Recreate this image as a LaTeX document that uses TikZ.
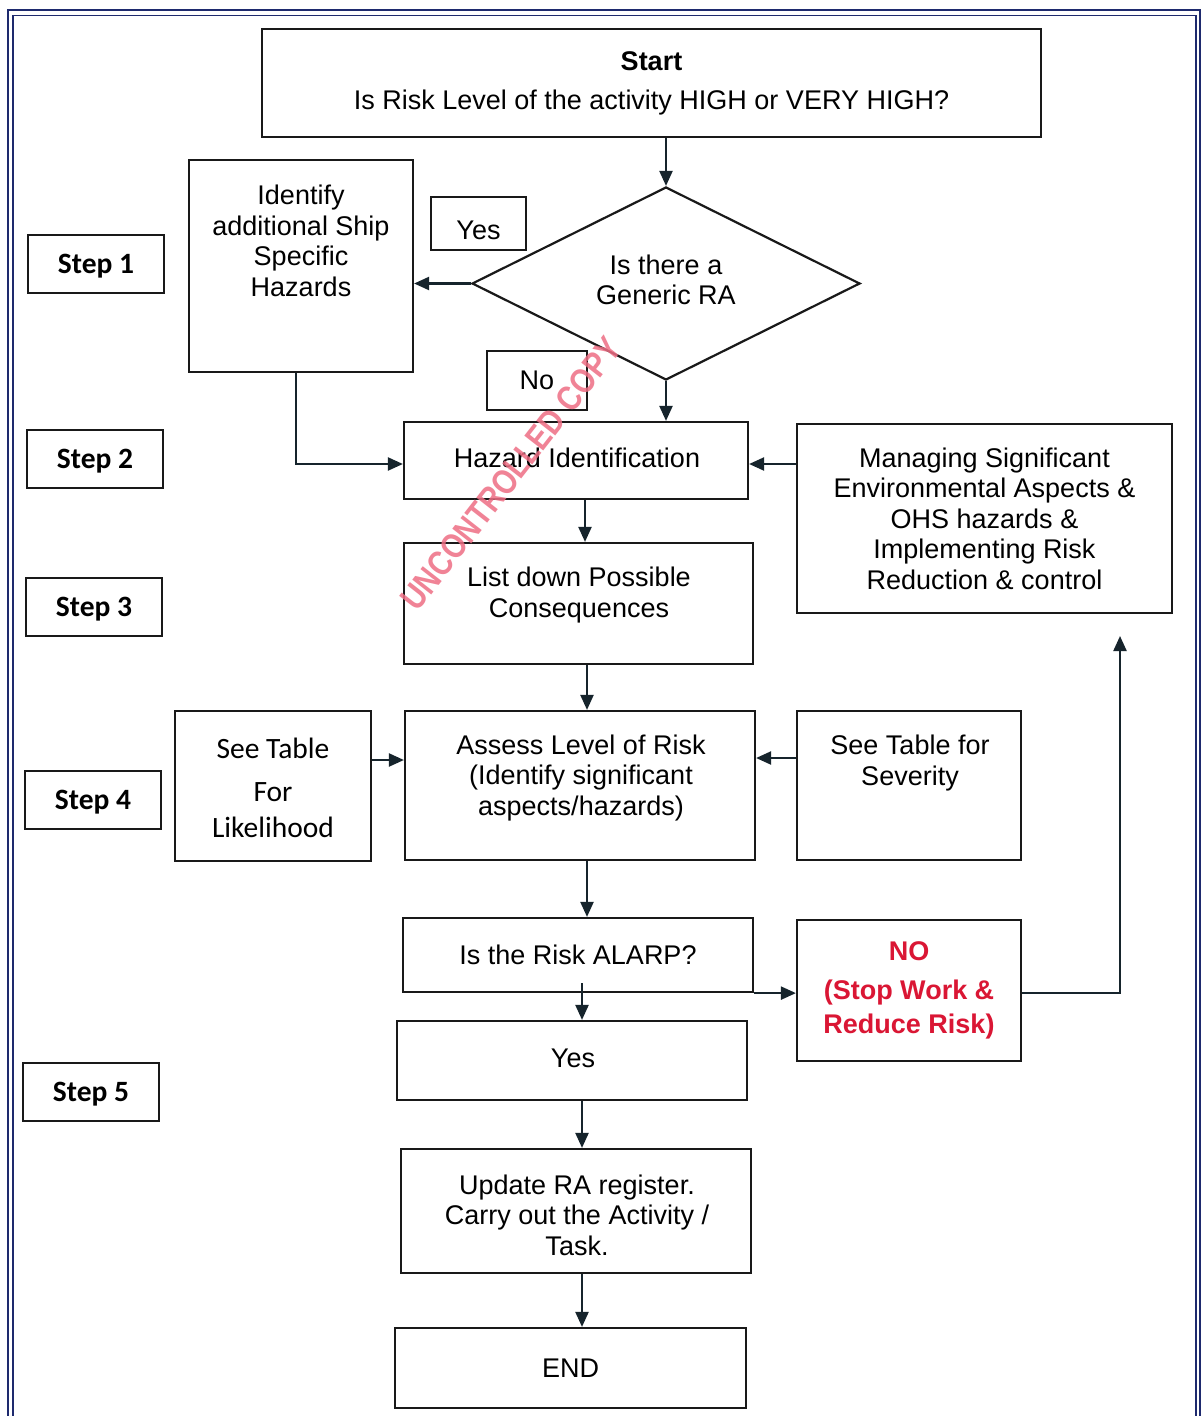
\documentclass[tikz,border=0pt]{standalone}
\usepackage{fontspec}
\setmainfont{Liberation Sans}
\newfontfamily\calib{Carlito}
\usetikzlibrary{arrows.meta,shapes.geometric}
\definecolor{framec}{RGB}{30,42,110}
\definecolor{linec}{RGB}{25,25,25}
\definecolor{arrc}{RGB}{22,36,44}
\definecolor{redt}{RGB}{218,22,52}
\definecolor{wmc}{RGB}{238,110,132}
\newcommand\fs{\fontsize{27}{30.5}\selectfont}
\newcommand\fsc{\calib\fontsize{29.5}{36}\selectfont}
\begin{document}
\begin{tikzpicture}[x=1pt,y=-1pt,
  box/.style={draw=linec, line width=2.2pt, rectangle, inner sep=0pt, font=\fs, align=center},
  txt/.style={font=\fs, align=center, inner sep=0pt},
  stepbox/.style={box, minimum width=136pt, minimum height=58pt, font=\fsc\bfseries},
  arr/.style={draw=arrc, line width=2.2pt, -{Triangle[length=15pt,width=13pt]}},
  frame/.style={draw=framec, line width=1.6pt}]
\useasboundingbox (0,0) rectangle (1203,1416);
\fill[white] (0,0) rectangle (1203,1416);
% page frame
\draw[frame] (8,1416) -- (8,10) -- (1200,10) -- (1200,1416);
\draw[frame] (13,1416) -- (13,15.5) -- (1196,15.5) -- (1196,1416);

% step labels
\node[stepbox] (s1) at (96,264) {};
\node[txt, font=\fsc\bfseries] (s1T) at (96,266) {Step 1};
\node[stepbox] (s2) at (95,459) {};
\node[txt, font=\fsc\bfseries] (s2T) at (95,461) {Step 2};
\node[stepbox] (s3) at (94,607) {};
\node[txt, font=\fsc\bfseries] (s3T) at (94,609) {Step 3};
\node[stepbox] (s4) at (93,800) {};
\node[txt, font=\fsc\bfseries] (s4T) at (93,802) {Step 4};
\node[stepbox] (s5) at (91,1092) {};
\node[txt, font=\fsc\bfseries] (s5T) at (91,1094) {Step 5};

% main nodes
\node[box, minimum width=779pt, minimum height=108pt] (start) at (651.5,83)
  {\textbf{Start}\\[8.5pt]Is Risk Level of the activity HIGH or VERY HIGH?};
\node[box, minimum width=224pt, minimum height=212pt] (ident) at (301,266) {};
\node[txt] (identT) at (301,241) {Identify\\additional Ship\\Specific\\Hazards};
\node[box, minimum width=95pt, minimum height=53pt] (yesA) at (478.5,223.5) {};
\node[txt] (yesAT) at (478.5,230) {Yes};
\node[diamond, draw=linec, line width=2.2pt, minimum width=388pt, minimum height=193pt,
      inner sep=0pt, aspect=2, font=\fs, align=center] (dia) at (666,283.5) {};
\node[txt] (diaT) at (666,280) {Is there a\\Generic RA};
\node[box, minimum width=100pt, minimum height=59pt] (noA) at (537,380.5) {No};
\node[box, minimum width=344pt, minimum height=77pt] (haz) at (576,460.5) {};
\node[txt] (hazT) at (577,458) {Hazard Identification};
\node[box, minimum width=375pt, minimum height=189pt] (manage) at (984.5,518.5)
  {Managing Significant\\Environmental Aspects \&\\OHS hazards \&\\Implementing Risk\\Reduction \& control};
\node[box, minimum width=349pt, minimum height=121pt] (list) at (578.5,603.5) {};
\node[txt] (listT) at (579,595) {List down Possible\\Consequences};
\node[box, minimum width=196pt, minimum height=150pt] (likeli) at (273,786) {};
\node[txt, font=\fsc] (likeliT) at (273,788) {See Table\\[7pt]For\\Likelihood};
\node[box, minimum width=350pt, minimum height=149pt] (assess) at (580,785.5) {};
\node[txt] (assessT) at (581,778) {Assess Level of Risk\\(Identify significant\\aspects/hazards)};
\node[box, minimum width=224pt, minimum height=149pt] (sever) at (909,785.5) {};
\node[txt] (severT) at (910,763) {See Table for\\Severity};
\node[box, minimum width=350pt, minimum height=74pt] (alarp) at (578,955) {Is the Risk ALARP?};
\node[box, minimum width=224pt, minimum height=141pt, text=redt,
      font=\fontsize{27}{34}\selectfont\bfseries] (stop) at (909,990.5)
  {NO\\[5pt](Stop Work \&\\Reduce Risk)};
\node[box, minimum width=350pt, minimum height=79pt] (yesB) at (572,1060.5) {};
\node[txt] (yesBT) at (573,1058) {Yes};
\node[box, minimum width=350pt, minimum height=124pt] (update) at (576,1211) {};
\node[txt] (updateT) at (577,1215) {Update RA register.\\Carry out the Activity /\\Task.};
\node[box, minimum width=351pt, minimum height=80pt] (endb) at (570.5,1368) {END};
\coordinate (ret) at (1120,636);

% connectors
\draw[arr] (dia.north |- start.south) -- (dia.north);
\draw[arr] (dia.west) -- (dia.west -| ident.east);
\draw[arr] (dia.south) -- (dia.south |- haz.north);
\draw[arr] ([xshift=-5pt]ident.south) |- ([yshift=-3.5pt]haz.west);
\draw[arr] ([yshift=-3.5pt]manage.west |- haz.east) -- ([yshift=-3.5pt]haz.east);
\draw[arr] ([xshift=9pt]haz.south) -- ([xshift=9pt]haz.south |- list.north);
\draw[arr] ([xshift=8.5pt]list.south) -- ([xshift=8.5pt]list.south |- assess.north);
\draw[arr] ([yshift=26pt]likeli.east) -- ([yshift=26pt]likeli.east -| assess.west);
\draw[arr] ([yshift=27.5pt]sever.west) -- ([yshift=27.5pt]sever.west -| assess.east);
\draw[arr] ([xshift=7pt]assess.south) -- ([xshift=7pt]assess.south |- alarp.north);
\draw[arr] ([xshift=4pt,yshift=10pt]alarp.south) -- ([xshift=4pt]alarp.south |- yesB.north);
\draw[arr] (alarp.south east) -- (alarp.south east -| stop.west);
\draw[arr] ([yshift=-2.5pt]stop.east) -| (ret);
\draw[arr] ([xshift=10pt]yesB.south) -- ([xshift=10pt]yesB.south |- update.north);
\draw[arr] ([xshift=6pt]update.south) -- ([xshift=6pt]update.south |- endb.north);

% watermark
\node[font=\fontsize{35}{35}\selectfont\bfseries, text=wmc, text opacity=0.85, inner sep=0pt,
      rotate=52, xscale=0.83] (wm) at (511,473.5) {UNCONTROLLED COPY};
\end{tikzpicture}
\end{document}
